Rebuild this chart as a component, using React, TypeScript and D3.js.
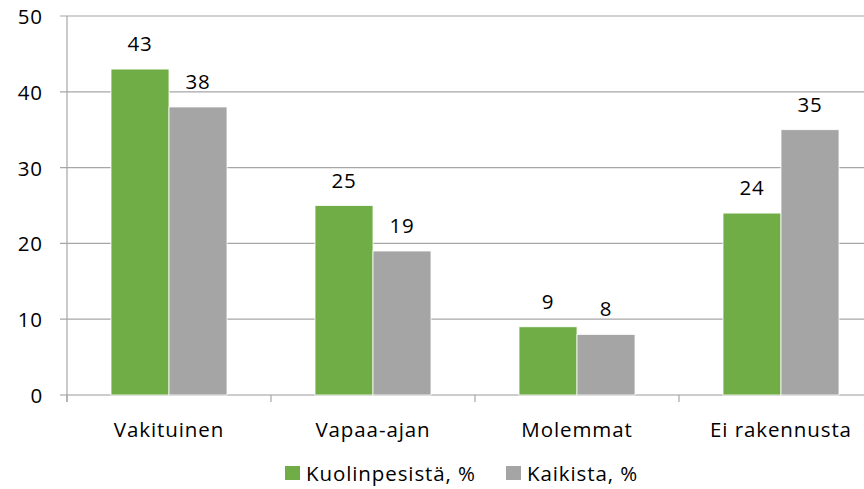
import React from "react";
import * as d3 from "d3";

const categories = ["Vakituinen", "Vapaa-ajan", "Molemmat", "Ei rakennusta"];
const seriesNames = ["Kuolinpesistä, %", "Kaikista, %"];
const kuolinpesista = [43, 25, 9, 24];
const kaikista = [38, 19, 8, 35];
const yTicks = [0, 10, 20, 30, 40, 50];
const colors = ["#70AD47", "#A5A5A5"];

const W = 864;
const H = 489;
const font = "'Open Sans', 'Noto Sans', sans-serif";
const fs = 20.5;
const ls = 0.9;

export default function App() {
  const x = d3.scaleBand<string>().domain(categories).range([67, 883]);
  const y = d3.scaleLinear().domain([0, 50]).range([395, 16]);
  const barW = 58;
  const series = [kuolinpesista, kaikista];

  return (
    <svg width={W} height={H} style={{ position: "absolute", left: 0, top: 0 }} fontFamily={font}>
      <rect width={W} height={H} fill="#fff" />
      {yTicks.map((t) => (
        <g key={t}>
          <line x1={60} x2={W} y1={y(t)} y2={y(t)} stroke={t === 0 ? "#999" : "#a6a6a6"} strokeWidth={1.2} />
          <text x={43} y={y(t) + 8} textAnchor="end" fontSize={fs} letterSpacing={ls} fill="#000">{t}</text>
        </g>
      ))}
      <line x1={67} x2={67} y1={16} y2={402} stroke="#a6a6a6" strokeWidth={1.2} />
      {categories.map((c, i) => {
        const cx = (x(c) as number) + x.bandwidth() / 2;
        return (
          <g key={c}>
            <line x1={(x(c) as number)} x2={(x(c) as number)} y1={395} y2={402} stroke="#a6a6a6" strokeWidth={1.2} />
            {series.map((s, j) => {
              const bx = cx - barW + j * barW;
              return (
                <g key={j}>
                  <rect x={bx} y={y(s[i])} width={barW} height={y(0) - y(s[i])} fill={colors[j]} stroke="#fff" strokeWidth={0.8} />
                  <text x={bx + barW / 2} y={y(s[i]) - 18} textAnchor="middle" fontSize={fs} letterSpacing={ls} fill="#000">{s[i]}</text>
                </g>
              );
            })}
            <text x={cx} y={437} textAnchor="middle" fontSize={fs} letterSpacing={ls} fill="#000">{c}</text>
          </g>
        );
      })}
      {seriesNames.map((n, j) => {
        const lx = [285, 506][j];
        return (
          <g key={n}>
            <rect x={lx} y={466} width={15} height={14} fill={colors[j]} />
            <text x={lx + 21} y={481} fontSize={fs} letterSpacing={ls} fill="#000">{n}</text>
          </g>
        );
      })}
    </svg>
  );
}
